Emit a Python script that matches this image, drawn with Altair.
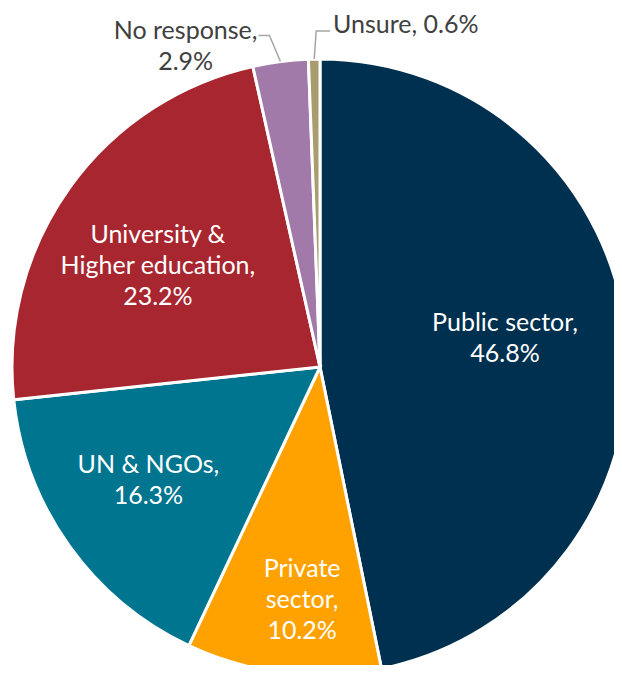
import math
import altair as alt
import pandas as pd

categories = ["Public sector", "Private sector", "UN & NGOs",
              "University & Higher education", "No response", "Unsure"]
values = [46.8, 10.2, 16.3, 23.2, 2.9, 0.6]
label_text = ["Public sector,\n46.8%", "Private\nsector,\n10.2%", "UN & NGOs,\n16.3%",
              "University &\nHigher education,\n23.2%", "No response,\n2.9%", "Unsure, 0.6%"]
colors = ["#00304F", "#FFA200", "#00758F", "#A7262F", "#A17AA9", "#A99D6F"]

CX, CY, R = 312, 359, 308
total = sum(values)

# label style: radius, dx, dy, color
label_style = {
    "Public sector": (190, -4, -25, "white"),
    "Private sector": (234, 10, -30, "white"),
    "UN & NGOs": (207, -3, -22, "white"),
    "University & Higher education": (181, -15, -27, "white"),
    "No response": (330, -92, -9, "#404040"),
    "Unsure": (330, 92, -12, "#404040"),
}
leaders = {
    "No response": [(-11, -26), (-22, -26)],
    "Unsure": [(2, -28), (16, -28)],
}

df = pd.DataFrame({"category": categories, "value": values,
                   "label": label_text, "idx": list(range(len(values)))})

arcs = alt.Chart(df).mark_arc(radius=R, stroke="white", strokeWidth=3).encode(
    theta=alt.Theta("value:Q", stack=True),
    order=alt.Order("idx:Q"),
    x=alt.value(CX), y=alt.value(CY),
    color=alt.Color("category:N", scale=alt.Scale(domain=categories, range=colors), legend=None),
)

text_base = alt.Chart(df).transform_window(
    cum="sum(value)", sort=[alt.SortField("idx")], frame=[None, 0]
).transform_calculate(mid="datum.cum - datum.value / 2")

layers = [arcs]
for cat, (rad, dx, dy, col) in label_style.items():
    t = text_base.transform_filter(alt.datum.category == cat).mark_text(
        radius=rad, dx=dx, dy=dy, color=col, font="Lato", fontSize=25,
        lineBreak="\n", lineHeight=31, align="center", baseline="middle"
    ).encode(
        theta=alt.Theta("mid:Q", stack=None, scale=alt.Scale(domain=[0, total])),
        x=alt.value(CX), y=alt.value(CY), text="label:N",
    )
    layers.append(t)

# leader lines derived from slice midpoints
rows = []
cum = 0.0
for c, v in zip(categories, values):
    mid = (cum + v / 2) / total * 2 * math.pi
    cum += v
    if c in leaders:
        x0 = CX + R * math.sin(mid)
        y0 = CY - R * math.cos(mid)
        rows.append({"cat": c, "o": 0, "x": x0, "y": y0})
        for j, (ox, oy) in enumerate(leaders[c]):
            rows.append({"cat": c, "o": j + 1, "x": x0 + ox, "y": y0 + oy})
ldf = pd.DataFrame(rows)
lines = alt.Chart(ldf).mark_line(color="#A6A6A6", strokeWidth=1.5).encode(
    x=alt.X("x:Q", scale=None), y=alt.Y("y:Q", scale=None),
    detail="cat:N", order="o:Q",
)
layers.append(lines)

chart = alt.layer(*layers).resolve_scale(theta="independent").properties(
    width=606, height=657, padding=0, autosize="none", background="white"
).configure_view(stroke=None)

chart.save("out.html", embed_options={"renderer": "svg", "actions": False})
